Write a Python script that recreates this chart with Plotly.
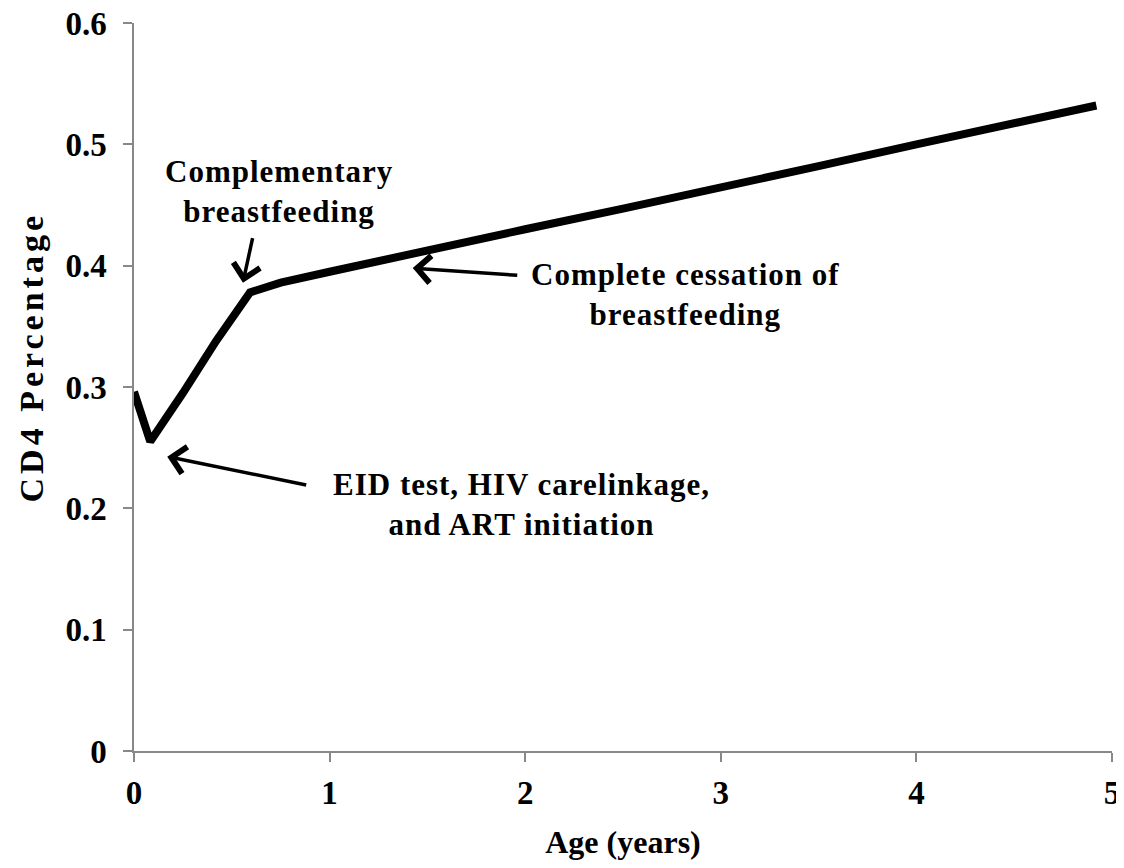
import plotly.graph_objects as go

# Data
age_years = [0.0, 0.083, 0.25, 0.42, 0.593, 0.75, 1.0, 1.5, 2.0, 2.5, 3.0, 3.5, 4.0, 4.5, 4.92]
cd4_pct = [0.296, 0.255, 0.295, 0.338, 0.378, 0.386, 0.395, 0.413, 0.430, 0.447, 0.464, 0.482, 0.500, 0.517, 0.532]

x_ticks = [0, 1, 2, 3, 4, 5]
x_tick_labels = ["0", "1", "2", "3", "4", "5"]
y_ticks = [0, 0.1, 0.2, 0.3, 0.4, 0.5, 0.6]
y_tick_labels = ["0", "0.1", "0.2", "0.3", "0.4", "0.5", "0.6"]

# Annotation texts (lines, x, y in data units) and arrows (head x,y ; tail x,y)
notes = [
    (["Complementary", "breastfeeding"], 0.74, 0.461),
    (["Complete cessation of", "breastfeeding"], 2.82, 0.376),
    (["EID test, HIV carelinkage,", "and ART initiation"], 1.98, 0.203),
]
arrows = [
    (0.557, 0.386, 0.608, 0.424),
    (1.425, 0.398, 1.967, 0.392),
    (0.170, 0.2426, 0.888, 0.219),
]

SERIF = "Liberation Serif, Times New Roman, serif"


def spaced(lines, px):
    return "<br>".join(f'<span style="letter-spacing:{px}px">{ln}</span>' for ln in lines)


fig = go.Figure()
fig.add_trace(go.Scatter(
    x=age_years, y=cd4_pct, mode="lines",
    line=dict(color="black", width=8, shape="linear"),
    showlegend=False,
))

for lines, x, y in notes:
    fig.add_annotation(
        x=x, y=y, xref="x", yref="y", text=spaced(lines, 1), showarrow=False,
        font=dict(family=SERIF, size=31, color="black", weight="bold"),
        align="center", xanchor="center", yanchor="middle",
    )

for hx, hy, tx, ty in arrows:
    fig.add_annotation(
        x=hx, y=hy, ax=tx, ay=ty, xref="x", yref="y", axref="x", ayref="y",
        text="", showarrow=True, arrowhead=4, arrowsize=1.5, arrowwidth=3.5,
        arrowcolor="black",
    )

# y-axis title as rotated annotation for precise placement
fig.add_annotation(
    x=-0.105, y=0.541, xref="paper", yref="paper",
    text=spaced(["CD4 Percentage"], 4),
    textangle=-90, showarrow=False, xanchor="center", yanchor="middle",
    font=dict(family=SERIF, size=34, color="black", weight="bold"),
)

axis_common = dict(
    showline=True, linecolor="#888888", linewidth=1.5,
    ticks="outside", tickcolor="#888888", ticklen=9, tickwidth=1.5,
    showgrid=False, zeroline=False, ticklabeloverflow="allow",
    tickfont=dict(family=SERIF, size=33, color="black", weight="bold"),
)

fig.update_xaxes(
    range=[0, 5], tickvals=x_ticks, ticktext=x_tick_labels,
    ticklabelstandoff=3,
    title=dict(text="Age (years)", font=dict(family=SERIF, size=32, color="black", weight="bold"), standoff=24),
    **axis_common,
)
fig.update_yaxes(
    range=[0, 0.6], tickvals=y_ticks, ticktext=y_tick_labels,
    ticklabelstandoff=10,
    **axis_common,
)

fig.update_layout(
    width=1116, height=852,
    margin=dict(l=125.5, r=12, t=15, b=109, autoexpand=False),
    plot_bgcolor="white", paper_bgcolor="white",
    showlegend=False,
)

fig.write_html("out.html")
